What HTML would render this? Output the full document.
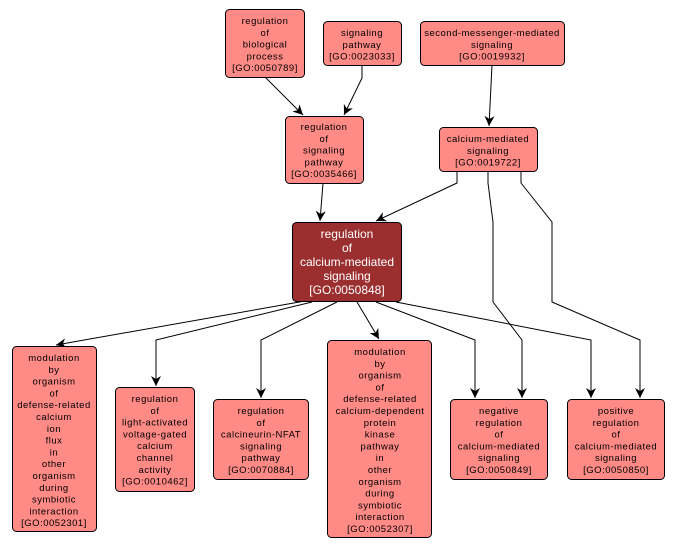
<!DOCTYPE html>
<html><head><style>
body{margin:0;background:#fff}
svg text{font-family:"Liberation Sans",sans-serif;font-size:9.5px;letter-spacing:0.5px;text-anchor:middle;fill:#000}
</style></head><body>
<svg width="677" height="549" viewBox="0 0 677 549" xmlns="http://www.w3.org/2000/svg">
<defs><marker id="a" markerWidth="12" markerHeight="12" refX="10" refY="5" orient="auto" markerUnits="userSpaceOnUse"><path d="M0,0 L10,5 L0,10 L3,5 Z" fill="#000"/></marker></defs>
<g fill="none" stroke="#000" stroke-width="1">
<path d="M265,77 L303,115" marker-end="url(#a)"/>
<path d="M362,65 L362,78 L344,115" marker-end="url(#a)"/>
<path d="M492,65 L489,126" marker-end="url(#a)"/>
<path d="M323,183 L320,221" marker-end="url(#a)"/>
<path d="M457,171 L457,183 L376,221" marker-end="url(#a)"/>
<path d="M488,171 L488,183 L493,222 L493,302 L522,340 L522,398" marker-end="url(#a)"/>
<path d="M521,171 L521,183 L552,222 L552,302 L640,340 L640,398" marker-end="url(#a)"/>
<path d="M305,301 L56,345" marker-end="url(#a)"/>
<path d="M312,302 L156,340 L156,386" marker-end="url(#a)"/>
<path d="M337,302 L261,340 L261,398" marker-end="url(#a)"/>
<path d="M357,302 L379,339" marker-end="url(#a)"/>
<path d="M376,302 L475,340 L475,398" marker-end="url(#a)"/>
<path d="M396,302 L591,340 L591,398" marker-end="url(#a)"/>
</g>
<g fill="#ff8a86" stroke="#000" stroke-width="1">
<rect x="225.5" y="9.5" width="79" height="68" rx="4"/>
<rect x="323.5" y="21.5" width="78" height="44" rx="4"/>
<rect x="420.5" y="21.5" width="144" height="44" rx="4"/>
<rect x="285.5" y="116.5" width="78" height="67" rx="4"/>
<rect x="439.5" y="127.5" width="98" height="44" rx="4"/>
<rect x="292.5" y="222.5" width="109" height="79" rx="4" fill="#9b2e2e"/>
<rect x="12.5" y="346.5" width="84" height="185" rx="4"/>
<rect x="115.5" y="387.5" width="79" height="104" rx="4"/>
<rect x="213.5" y="399.5" width="95" height="80" rx="4"/>
<rect x="327.5" y="340.5" width="104" height="197" rx="4"/>
<rect x="450.5" y="399.5" width="97" height="80" rx="4"/>
<rect x="567.5" y="399.5" width="97" height="80" rx="4"/>
</g>
<text x="265" y="24">regulation<tspan x="265" dy="11.8">of</tspan><tspan x="265" dy="11.8">biological</tspan><tspan x="265" dy="11.8">process</tspan><tspan x="265" dy="11.8">[GO:0050789]</tspan></text>
<text x="362" y="36">signaling<tspan x="362" dy="11.8">pathway</tspan><tspan x="362" dy="11.8">[GO:0023033]</tspan></text>
<text x="492" y="36">second-messenger-mediated<tspan x="492" dy="11.8">signaling</tspan><tspan x="492" dy="11.8">[GO:0019932]</tspan></text>
<text x="324" y="130">regulation<tspan x="324" dy="11.8">of</tspan><tspan x="324" dy="11.8">signaling</tspan><tspan x="324" dy="11.8">pathway</tspan><tspan x="324" dy="11.8">[GO:0035466]</tspan></text>
<text x="488" y="142">calcium-mediated<tspan x="488" dy="11.8">signaling</tspan><tspan x="488" dy="11.8">[GO:0019722]</tspan></text>
<text x="347" y="238" style="font-size:12px;fill:#fff;letter-spacing:0">regulation<tspan x="347" dy="14">of</tspan><tspan x="347" dy="14">calcium-mediated</tspan><tspan x="347" dy="14">signaling</tspan><tspan x="347" dy="14">[GO:0050848]</tspan></text>
<text x="54" y="361">modulation<tspan x="54" dy="11.8">by</tspan><tspan x="54" dy="11.8">organism</tspan><tspan x="54" dy="11.8">of</tspan><tspan x="54" dy="11.8">defense-related</tspan><tspan x="54" dy="11.8">calcium</tspan><tspan x="54" dy="11.8">ion</tspan><tspan x="54" dy="11.8">flux</tspan><tspan x="54" dy="11.8">in</tspan><tspan x="54" dy="11.8">other</tspan><tspan x="54" dy="11.8">organism</tspan><tspan x="54" dy="11.8">during</tspan><tspan x="54" dy="11.8">symbiotic</tspan><tspan x="54" dy="11.8">interaction</tspan><tspan x="54" dy="11.8">[GO:0052301]</tspan></text>
<text x="155" y="402">regulation<tspan x="155" dy="11.8">of</tspan><tspan x="155" dy="11.8">light-activated</tspan><tspan x="155" dy="11.8">voltage-gated</tspan><tspan x="155" dy="11.8">calcium</tspan><tspan x="155" dy="11.8">channel</tspan><tspan x="155" dy="11.8">activity</tspan><tspan x="155" dy="11.8">[GO:0010462]</tspan></text>
<text x="261" y="414">regulation<tspan x="261" dy="11.8">of</tspan><tspan x="261" dy="11.8">calcineurin-NFAT</tspan><tspan x="261" dy="11.8">signaling</tspan><tspan x="261" dy="11.8">pathway</tspan><tspan x="261" dy="11.8">[GO:0070884]</tspan></text>
<text x="380" y="355">modulation<tspan x="380" dy="11.8">by</tspan><tspan x="380" dy="11.8">organism</tspan><tspan x="380" dy="11.8">of</tspan><tspan x="380" dy="11.8">defense-related</tspan><tspan x="380" dy="11.8">calcium-dependent</tspan><tspan x="380" dy="11.8">protein</tspan><tspan x="380" dy="11.8">kinase</tspan><tspan x="380" dy="11.8">pathway</tspan><tspan x="380" dy="11.8">in</tspan><tspan x="380" dy="11.8">other</tspan><tspan x="380" dy="11.8">organism</tspan><tspan x="380" dy="11.8">during</tspan><tspan x="380" dy="11.8">symbiotic</tspan><tspan x="380" dy="11.8">interaction</tspan><tspan x="380" dy="11.8">[GO:0052307]</tspan></text>
<text x="499" y="414">negative<tspan x="499" dy="11.8">regulation</tspan><tspan x="499" dy="11.8">of</tspan><tspan x="499" dy="11.8">calcium-mediated</tspan><tspan x="499" dy="11.8">signaling</tspan><tspan x="499" dy="11.8">[GO:0050849]</tspan></text>
<text x="616" y="414">positive<tspan x="616" dy="11.8">regulation</tspan><tspan x="616" dy="11.8">of</tspan><tspan x="616" dy="11.8">calcium-mediated</tspan><tspan x="616" dy="11.8">signaling</tspan><tspan x="616" dy="11.8">[GO:0050850]</tspan></text>
</svg>
</body></html>
